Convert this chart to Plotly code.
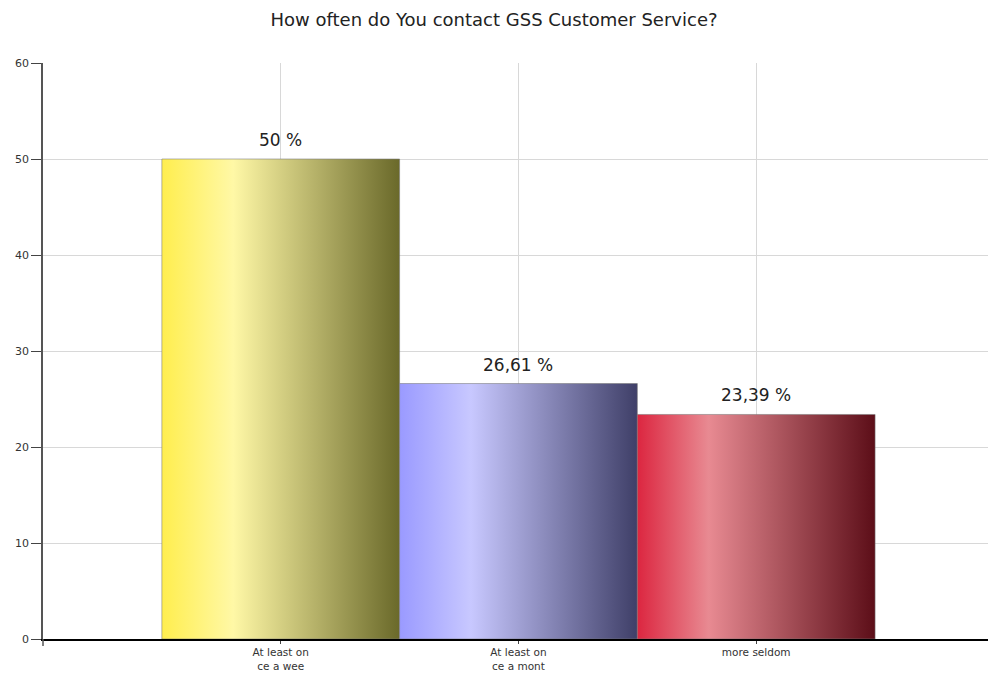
import plotly.graph_objects as go

categories = ["At least on<br>ce a wee", "At least on<br>ce a mont", "more seldom"]
values = [50, 26.61, 23.39]
value_labels = ["50 %", "26,61 %", "23,39 %"]
gradients = [
    ["#FFEE4E", "#FFF8A6", "#6A692A"],
    ["#9A9AFF", "#C8C8FF", "#3F3F68"],
    ["#DC2640", "#E88A92", "#5C0E18"],
]
y_ticks = [0, 10, 20, 30, 40, 50, 60]

FONT = "DejaVu Sans, Verdana, sans-serif"

fig = go.Figure()
for i, (v, g) in enumerate(zip(values, gradients)):
    fig.add_trace(go.Scatter(
        x=[i - 0.5, i + 0.5, i + 0.5, i - 0.5, i - 0.5],
        y=[0, 0, v, v, 0],
        mode="lines",
        fill="toself",
        fillgradient=dict(type="horizontal",
                          colorscale=[[0, g[0]], [0.3, g[1]], [1, g[2]]]),
        line=dict(color="rgba(120,120,120,0.7)", width=0.8),
        hoverinfo="skip",
        showlegend=False,
    ))

annotations = [
    dict(x=i, y=v, xref="x", yref="y", text=t, showarrow=False,
         xanchor="center", yanchor="bottom", yshift=7,
         font=dict(family=FONT, size=17, color="#222"))
    for i, (v, t) in enumerate(zip(values, value_labels))
]

fig.update_layout(
    width=988, height=675,
    margin=dict(l=43, r=0, t=63, b=36),
    paper_bgcolor="white", plot_bgcolor="white",
    title=dict(text="How often do You contact GSS Customer Service?",
               x=0.5, xanchor="center", y=1 - 20 / 675, yanchor="middle",
               font=dict(family=FONT, size=18, color="#222")),
    font=dict(family=FONT, size=11, color="#333"),
    annotations=annotations,
    xaxis=dict(range=[-1, 2.975], tickmode="array",
               tickvals=list(range(len(categories))), ticktext=categories,
               showgrid=True, gridcolor="#d8d8d8", gridwidth=1,
               zeroline=False, showline=True, linecolor="black", linewidth=1.5,
               ticks="outside", ticklen=3, tickcolor="#444", automargin=False,
               tickfont=dict(family=FONT, size=10.5, color="#333")),
    yaxis=dict(range=[0, 60], tickmode="array", tickvals=y_ticks,
               showgrid=True, gridcolor="#d8d8d8", gridwidth=1,
               zeroline=False, showline=True, linecolor="#555", linewidth=1.5,
               ticks="outside", ticklen=10, tickcolor="#444", automargin=False,
               tickfont=dict(family=FONT, size=11, color="#333")),
    shapes=[dict(type="line", xref="paper", yref="paper",
                 x0=0, x1=0, y0=0, y1=-7 / 576,
                 line=dict(color="#555", width=1.5))],
)

fig.write_html("out.html")
